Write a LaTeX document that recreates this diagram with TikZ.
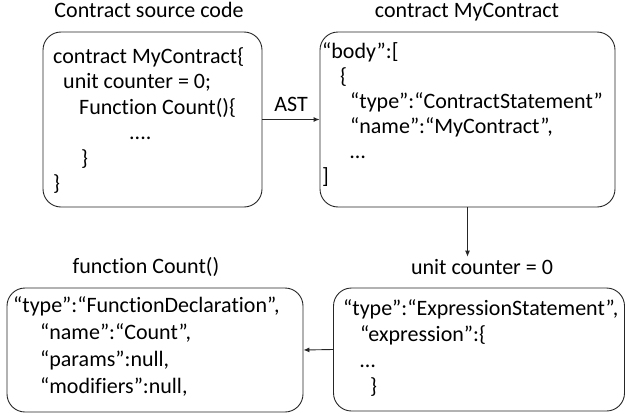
\documentclass[tikz,border=0pt]{standalone}
\usepackage{fontspec}
\setmainfont{Carlito}[Ligatures=NoCommon]
\usetikzlibrary{arrows.meta}
\begin{document}
\begin{tikzpicture}[x=1pt,y=-1pt,
  box/.style={draw=black!85, line width=0.9pt, rounded corners=18pt, inner sep=0pt},
  txt/.style={align=left, inner sep=0pt, anchor=base west},
  ttl/.style={font=\fontsize{22}{26}\selectfont, inner sep=0pt, anchor=base},
  arr/.style={draw=black!85, line width=0.9pt, -{Latex[length=6pt,width=5pt]}}]
\useasboundingbox (0,0) rectangle (626,415);
% boxes
\node[box, minimum width=219pt, minimum height=175pt] (b1) at (152.5,119.5) {};
\node[box, minimum width=295pt, minimum height=175pt] (b2) at (467.5,119.5) {};
\node[box, minimum width=291pt, minimum height=123pt] (b3) at (479,349.5) {};
\node[box, minimum width=296pt, minimum height=124pt] (b4) at (155,350) {};
% titles
\node[ttl] (t1) at (149,17.5) {Contract source code};
\node[ttl] (t2) at (467,17.5) {contract MyContract};
\node[ttl] (t3) at (482,274) {unit counter = 0};
\node[ttl] (t4) at (146,273) {function Count()};
% contents (anchored at the baseline of the last line)
\node[txt, font=\fontsize{22}{25.5}\selectfont] (c1) at (53,190.5) {contract MyContract\{\\
\hspace*{10pt}unit counter = 0;\\
\hspace*{26pt}Function Count()\{\\
\hspace*{76pt}....\\
\hspace*{28pt}\}\\
\}};
\node[txt, font=\fontsize{22}{25}\selectfont] (c2) at (322,183) {“body”:[\\
\hspace*{18pt}\{\\
\hspace*{28pt}“type”:“ContractStatement”\\
\hspace*{28pt}“name”:“MyContract”,\\
\hspace*{28pt}…\\
]};
\node[txt, font=\fontsize{22}{26}\selectfont] (c3) at (343,393) {“type”:“ExpressionStatement”,\\
\hspace*{17pt}“expression”:\{\\
\hspace*{17pt}…\\
\hspace*{27pt}\}};
\node[txt, font=\fontsize{22}{27}\selectfont] (c4) at (13,393) {“type”:“FunctionDeclaration”,\\
\hspace*{27pt}“name”:“Count”,\\
\hspace*{27pt}“params”:null,\\
\hspace*{27pt}“modifiers”:null,};
% connectors
\draw[arr] (b1.east) -- node[above=4pt, font=\fontsize{22}{26}\selectfont] (ast) {AST} (b2.west);
\draw[arr] (b2.south) -- ([yshift=2pt]b2.south |- t3.north);
\draw[arr] (b3.west) -- (b4.east);
\end{tikzpicture}
\end{document}
